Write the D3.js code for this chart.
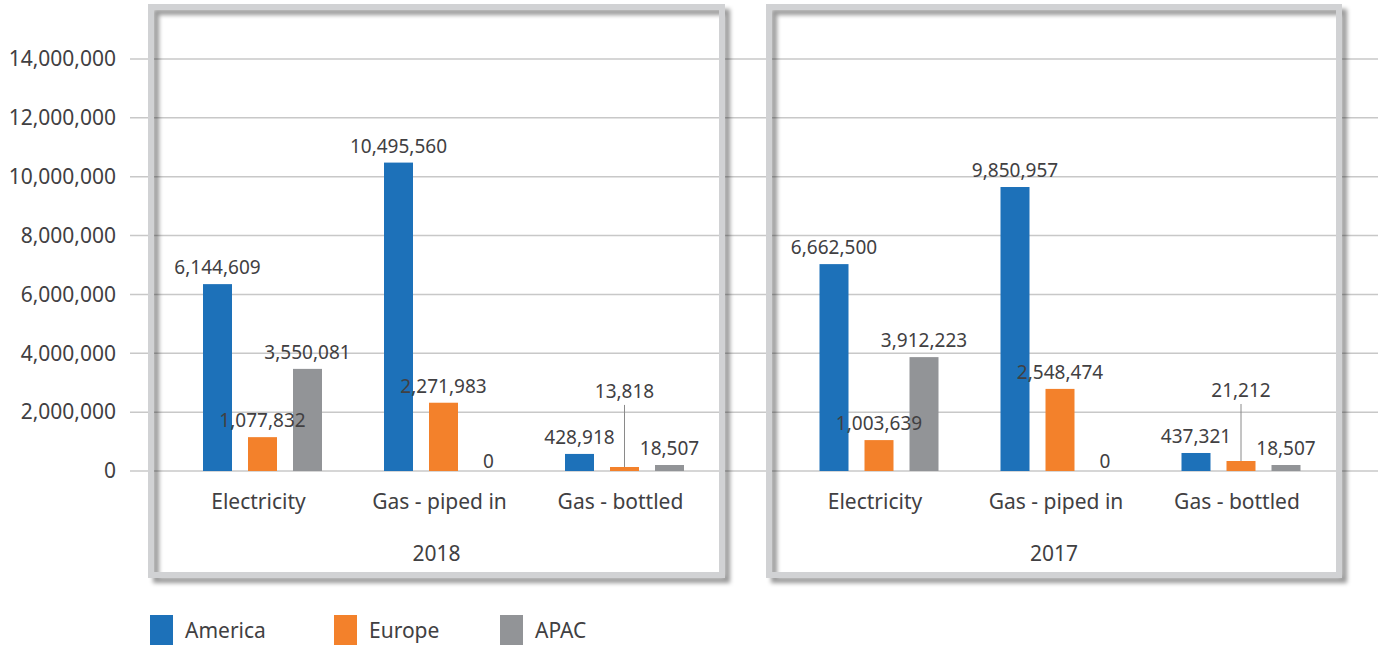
<html>
<head>
  <script src="https://d3js.org/d3.v7.min.js"></script>
  <style>
    body { margin: 0; background: #fff; }
    svg text { font-family: "Noto Sans", sans-serif; fill: #414042; }
  </style>
</head>
<body>
  <svg id="root" width="1378" height="645"></svg>
  <script>
    var categories = ['Electricity', 'Gas - piped in', 'Gas - bottled'];
    var series = ['America', 'Europe', 'APAC'];
    var years = ['2018', '2017'];
    var colors = ['#1d71b9', '#f3812b', '#929497'];
    var yTicks = [0, 2000000, 4000000, 6000000, 8000000, 10000000, 12000000, 14000000];

    // bar heights as drawn in the picture
    var america2018 = [6350000, 10480000, 580000];
    var europe2018 = [1150000, 2320000, 136000];
    var apac2018 = [3470000, 0, 204000];
    var america2017 = [7030000, 9650000, 612000];
    var europe2017 = [1050000, 2790000, 340000];
    var apac2017 = [3870000, 0, 204000];

    // values printed on the labels
    var americaLabels2018 = [6144609, 10495560, 428918];
    var europeLabels2018 = [1077832, 2271983, 13818];
    var apacLabels2018 = [3550081, 0, 18507];
    var americaLabels2017 = [6662500, 9850957, 437321];
    var europeLabels2017 = [1003639, 2548474, 21212];
    var apacLabels2017 = [3912223, 0, 18507];

    var bars = { '2018': [america2018, europe2018, apac2018], '2017': [america2017, europe2017, apac2017] };
    var labels = { '2018': [americaLabels2018, europeLabels2018, apacLabels2018], '2017': [americaLabels2017, europeLabels2017, apacLabels2017] };

    var svg = d3.select('#root');
    var fmt = d3.format(',');

    var defs = svg.append('defs');
    defs.append('filter')
      .attr('id', 'shadow')
      .attr('x', '-5%').attr('y', '-5%').attr('width', '110%').attr('height', '110%')
      .append('feDropShadow')
      .attr('dx', 5).attr('dy', 5).attr('stdDeviation', 2.2)
      .attr('flood-color', '#000').attr('flood-opacity', 0.4);

    var y = d3.scaleLinear().domain([0, 14000000]).range([471, 59]);

    // gridlines across the full width
    svg.append('g').selectAll('line')
      .data(yTicks)
      .enter().append('line')
      .attr('x1', 130).attr('x2', 1378)
      .attr('y1', function (d) { return y(d); })
      .attr('y2', function (d) { return y(d); })
      .attr('stroke', '#c8c8c8')
      .attr('stroke-width', 1.5);

    // y axis labels
    var yAxis = svg.append('g')
      .attr('transform', 'translate(116,0)')
      .call(d3.axisLeft(y).tickValues(yTicks).tickFormat(fmt).tickSize(0).tickPadding(0));
    yAxis.select('.domain').remove();
    yAxis.selectAll('text')
      .attr('font-size', 21)
      .attr('fill', '#414042')
      .style('font-family', '"Noto Sans", sans-serif');

    var panels = [
      { year: '2018', range: [172, 715], frame: [151, 7, 571, 568] },
      { year: '2017', range: [788.5, 1331.5], frame: [769, 7, 570, 568] }
    ];

    panels.forEach(function (p) {
      var x0 = d3.scaleBand().domain(categories).range(p.range);
      var x1 = d3.scaleBand().domain(series).range([-67.5, 67.5])
        .paddingInner(16 / 45).paddingOuter(8 / 45);

      var g = svg.append('g');

      // frame with drop shadow
      g.append('rect')
        .attr('x', p.frame[0]).attr('y', p.frame[1])
        .attr('width', p.frame[2]).attr('height', p.frame[3])
        .attr('fill', 'none')
        .attr('stroke', '#d1d2d4')
        .attr('stroke-width', 6)
        .attr('filter', 'url(#shadow)');

      var barLayer = g.append('g');
      var labelLayer = g.append('g');

      categories.forEach(function (c, ci) {
        var cx0 = x0(c) + x0.bandwidth() / 2;
        var vals = series.map(function (s, si) { return bars[p.year][si][ci]; });
        var groupMax = d3.max(vals);
        series.forEach(function (s, si) {
          var v = bars[p.year][si][ci];
          var lv = labels[p.year][si][ci];
          var cx = cx0 + x1(s) + x1.bandwidth() / 2;
          barLayer.append('rect')
            .attr('x', cx0 + x1(s))
            .attr('width', x1.bandwidth())
            .attr('y', y(v))
            .attr('height', y(0) - y(v))
            .attr('fill', colors[si]);

          var ly = y(v) - 10;
          if (v === 0) ly = y(0) - 3;
          var callout = (s === 'Europe' && v < 500000);
          if (callout) {
            ly = y(groupMax) - 56;
            barLayer.append('line')
              .attr('x1', cx).attr('x2', cx)
              .attr('y1', ly + 7).attr('y2', y(v))
              .attr('stroke', '#8a8a8a')
              .attr('stroke-width', 1);
          }
          labelLayer.append('text')
            .attr('x', cx)
            .attr('y', ly)
            .attr('text-anchor', 'middle')
            .attr('font-size', 19)
            .text(fmt(lv));
        });
      });

      // category labels
      g.selectAll('.catlabel')
        .data(categories)
        .enter().append('text')
        .attr('class', 'catlabel')
        .attr('x', function (c) { return x0(c) + x0.bandwidth() / 2 - 4; })
        .attr('y', 509)
        .attr('text-anchor', 'middle')
        .attr('font-size', 21)
        .text(function (c) { return c; });

      g.append('text')
        .attr('x', p.frame[0] + p.frame[2] / 2)
        .attr('y', 561)
        .attr('text-anchor', 'middle')
        .attr('font-size', 21)
        .text(p.year);
    });

    // legend
    var legendX = [150, 334, 500];
    var legend = svg.append('g').selectAll('g')
      .data(series)
      .enter().append('g')
      .attr('transform', function (d, i) { return 'translate(' + legendX[i] + ',615)'; });
    legend.append('rect')
      .attr('width', 23).attr('height', 32)
      .attr('fill', function (d, i) { return colors[i]; });
    legend.append('text')
      .attr('x', 35).attr('y', 23)
      .attr('font-size', 21)
      .text(function (d) { return d; });
  </script>
</body>
</html>
